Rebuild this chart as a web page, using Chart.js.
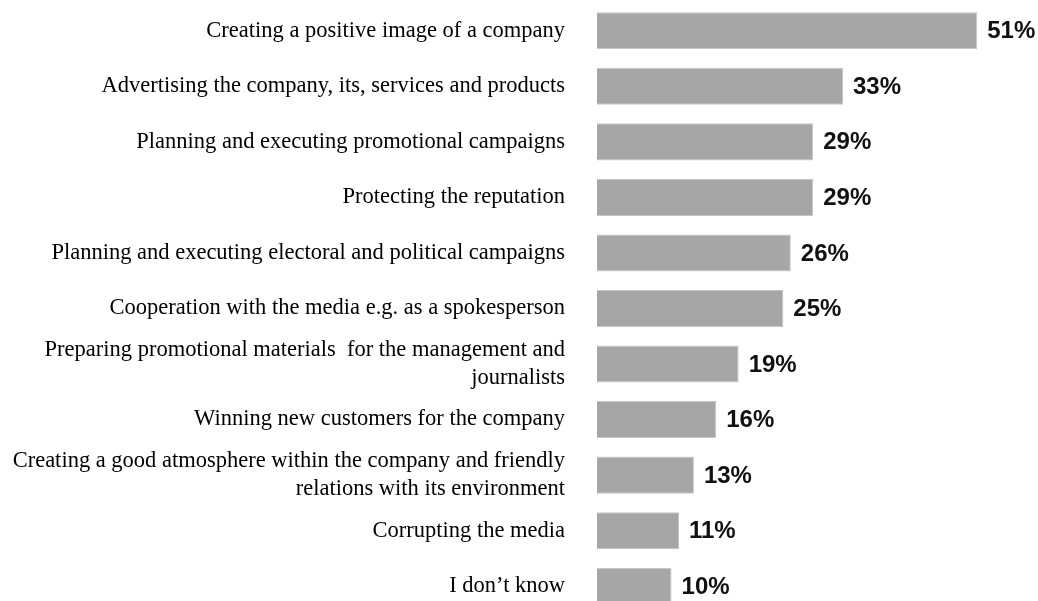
<!DOCTYPE html>
<html>
<head>
<meta charset="utf-8">
<script src="https://cdn.jsdelivr.net/npm/chart.js@4"></script>
<style>
    html, body { margin: 0; padding: 0; background: #fff; overflow: hidden; }
    #wrap { position: relative; width: 1038px; height: 614px; }
</style>
</head>
<body>
<div id="wrap"><canvas id="chart"></canvas></div>
<script>
const categories = [
    'Creating a positive image of a company',
    'Advertising the company, its, services and products',
    'Planning and executing promotional campaigns',
    'Protecting the reputation',
    'Planning and executing electoral and political campaigns',
    'Cooperation with the media e.g. as a spokesperson',
    ['Preparing promotional materials  for the management and', 'journalists'],
    'Winning new customers for the company',
    ['Creating a good atmosphere within the company and friendly', 'relations with its environment'],
    'Corrupting the media',
    'I don\u2019t know'
];
const shares = [51, 33, 29, 29, 26, 25, 19, 16, 13, 11, 10];

// percentage text to the right of each bar
const valueLabels = {
    id: 'valueLabels',
    afterDatasetsDraw(chart) {
        const ctx = chart.ctx;
        const meta = chart.getDatasetMeta(0);
        ctx.save();
        ctx.font = 'bold 24px "Liberation Sans", Arial, sans-serif';
        ctx.fillStyle = '#111';
        ctx.textAlign = 'left';
        ctx.textBaseline = 'middle';
        meta.data.forEach((bar, i) => {
            ctx.fillText(shares[i] + '%', bar.x + 10, bar.y + 1);
        });
        ctx.restore();
    }
};

new Chart(document.getElementById('chart'), {
    type: 'bar',
    data: {
        labels: categories,
        datasets: [{
            data: shares,
            backgroundColor: '#a6a6a6',
            borderColor: '#c6c6c6',
            borderWidth: 1,
            barPercentage: 0.667,
            categoryPercentage: 1
        }]
    },
    options: {
        indexAxis: 'y',
        responsive: true,
        maintainAspectRatio: false,
        animation: false,
        layout: { padding: { top: 3, right: 31, bottom: 0, left: 0 } },
        plugins: {
            legend: { display: false },
            tooltip: { enabled: false }
        },
        scales: {
            x: {
                display: false,
                min: 0,
                max: 55
            },
            y: {
                grid: { display: false },
                border: { display: false },
                afterFit(scale) {
                    scale.width = 597;
                    scale.paddingTop = 0;
                    scale.paddingBottom = 0;
                },
                ticks: {
                    autoSkip: false,
                    padding: 24,
                    color: '#000',
                    font: { family: '"Liberation Serif", "Times New Roman", serif', size: 22.5, lineHeight: 1.25 }
                }
            }
        }
    },
    plugins: [valueLabels]
});
</script>
</body>
</html>
